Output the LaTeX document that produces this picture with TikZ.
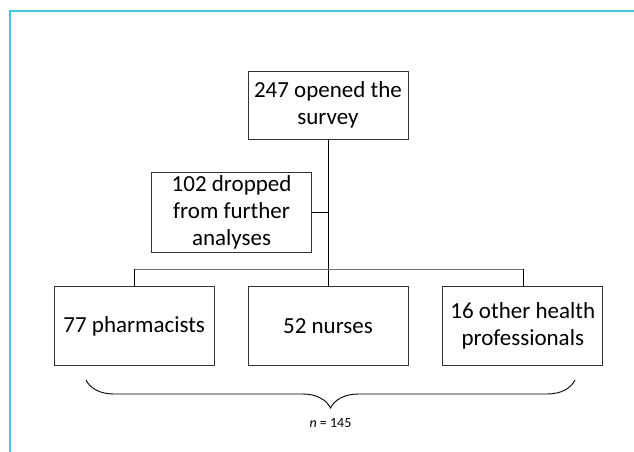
\documentclass[tikz,border=0pt]{standalone}
\usepackage{fontspec}
\setmainfont{Carlito}
\usepackage{tikz}
\usetikzlibrary{positioning}
\usetikzlibrary{calc}
\usetikzlibrary{decorations.pathreplacing}
\definecolor{framecyan}{RGB}{64,200,234}
\tikzset{box/.style={draw=black!80, line width=0.8pt, minimum width=160pt, minimum height=79pt, inner sep=0pt, align=center, font=\fontsize{23}{27}\selectfont}}
\tikzset{bar/.style={draw=black!55, line width=1.8pt}}

\begin{document}
\begin{tikzpicture}[x=1pt, y=1pt, node distance=147pt and 33pt]
\useasboundingbox (0,0) rectangle (634,-452);
\draw[framecyan, line width=2pt] (634,-11) -- (10,-11) -- (10,-452);

\node[box, minimum height=68pt] (survey) at (328,-105) {247 opened the\\survey};
\node[box, below=of survey] (nurses) {52 nurses};
\node[box, left=of nurses] (pharm) {77 pharmacists};
\node[box, right=34pt of nurses] (other) {16 other health\\professionals};
\coordinate[below=73pt of survey.south] (split);
\node[box, minimum height=80pt, left=16pt of split] (dropped) {102 dropped\\from further\\analyses};
\coordinate[above=17pt of nurses.north] (fork);
\coordinate (bl) at (86,-380);
\coordinate (br) at (575,-380);

\draw (survey.south) -- (nurses.north);
\draw (dropped.east) -- (split);
\draw[bar] (pharm.north |- fork) -- (other.north |- fork);
\draw (pharm.north) -- (pharm.north |- fork);
\draw (other.north) -- (other.north |- fork);
\draw[line width=0.9pt, decorate, decoration={brace, mirror, amplitude=28pt}] (bl) -- node[yshift=-43pt, font=\fontsize{14}{16}\selectfont] (total) {\itshape n\upshape{} = 145} (br);
\end{tikzpicture}
\end{document}
